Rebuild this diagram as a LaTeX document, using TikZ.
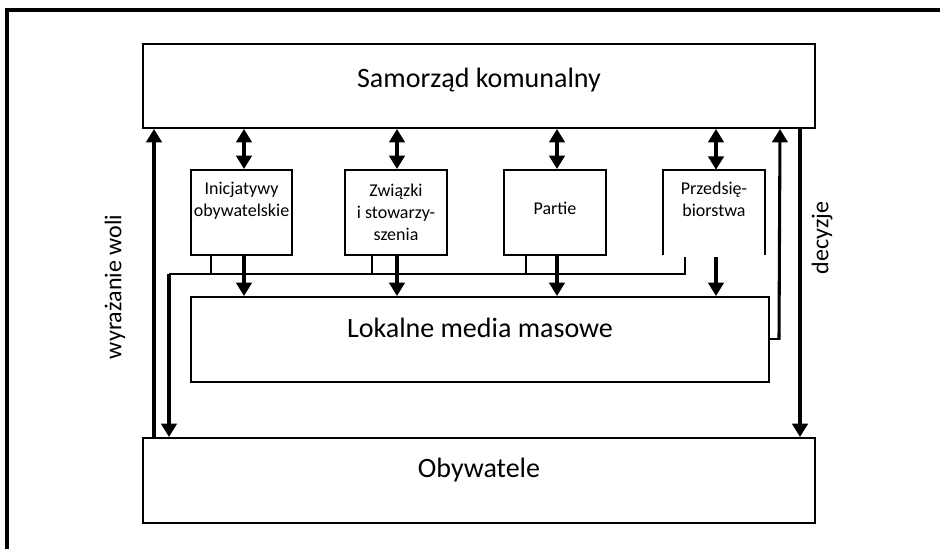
\documentclass[tikz,border=0pt]{standalone}
\usepackage{fontspec}
\setmainfont{Carlito}
\usetikzlibrary{arrows.meta,fit}
\begin{document}
\begin{tikzpicture}[x=0.75pt,y=-0.75pt,
  box/.style={draw, line width=1.5pt, inner sep=0pt},
  tip/.tip={Triangle[width=11.5pt,length=10pt]},
  flow/.style={line width=2.3pt, -tip},
  twoway/.style={line width=2.3pt, tip-tip},
  bus/.style={line width=1.1pt},
  big/.style={font=\fontsize{21}{25}\selectfont},
  small/.style={font=\fontsize{13.5}{16.5}\selectfont, align=center},
  side/.style={font=\fontsize{18}{22}\selectfont, rotate=90}]
\useasboundingbox (0,0) rectangle (940,549);

% outer frame
\draw[line width=2.5pt] (7,549) -- (7,10) -- (940,10);

% main boxes
\node[box, fit={(143,44) (815,128)}] (top) {};
\node[big] (toplbl) at (479,80) {Samorząd komunalny};
\node[box, fit={(191,297) (769,382)}] (media) {};
\node[big] (medialbl) at (480,328) {Lokalne media masowe};
\node[box, fit={(143,438) (815,523)}] (oby) {};
\node[big] (obylbl) at (479,470) {Obywatele};

% intermediate organisations
\node[box, fit={(191,170) (292,255)}] (ini) {};
\node[small] (inilbl) at (241.5,201) {Inicjatywy\\obywatelskie};
\node[box, fit={(345,170) (447,255)}] (zw) {};
\node[small] (zwlbl) at (396,212) {Związki\\i stowarzy-\\szenia};
\node[box, fit={(504,170) (606,255)}] (par) {};
\node[small] (parlbl) at (555,208) {Partie};
\node[inner sep=0pt, fit={(663,170) (765,255)}] (prz) {};
\draw[line width=1.5pt] (prz.south west) -- (prz.north west) -- (prz.north east) -- (prz.south east);
\node[small] (przlbl) at (714,199) {Przedsię-\\biorstwa};

% x positions of the vertical connectors
\coordinate (xi) at (244,0);
\coordinate (xz) at (397,0);
\coordinate (xp) at (557,0);
\coordinate (xe) at (716,0);
\coordinate (xwill) at (154,0);
\coordinate (xbus) at (169,0);
\coordinate (xmedia) at (780,0);
\coordinate (xdec) at (800,0);
\coordinate (ybus) at (0,274);

% two-way links with the council
\draw[twoway] (top.south -| xi) -- (ini.north -| xi);
\draw[twoway] (top.south -| xz) -- (zw.north -| xz);
\draw[twoway] (top.south -| xp) -- (par.north -| xp);
\draw[twoway] (top.south -| xe) -- (prz.north -| xe);

% organisations feed the local media
\draw[flow] (ini.south -| xi) -- (media.north -| xi);
\draw[flow] (zw.south -| xz) -- (media.north -| xz);
\draw[flow] (par.south -| xp) -- (media.north -| xp);
\draw[flow] ([yshift=-1.5pt]prz.south -| xe) -- (media.north -| xe);

% common line from the organisations to the citizens
\coordinate (bi) at (211,0);
\coordinate (bz) at (372,0);
\coordinate (bp) at (526,0);
\coordinate (be) at (685,0);
\draw[bus] (ini.south -| bi) -- (ybus -| bi);
\draw[bus] (zw.south -| bz) -- (ybus -| bz);
\draw[bus] (par.south -| bp) -- (ybus -| bp);
\draw[bus] ([yshift=-1.5pt]prz.south -| be) -- (ybus -| be) -- (ybus -| xbus);
\draw[flow] (ybus -| xbus) -- (oby.north -| xbus);

% will of the citizens and decisions
\draw[flow, line width=2.5pt] (oby.north -| xwill) -- (top.south -| xwill);
\node[side] (willlbl) at (115,287) {wyrażanie woli};
\draw[flow, line width=2.5pt] (top.south -| xdec) -- (oby.north -| xdec);
\node[side] (declbl) at (822,238) {decyzje};

% local media report to the council
\draw[line width=1.5pt] (media.east) -- (media.east -| xmedia);
\draw[flow] ([xshift=-0.75pt]media.east -| xmedia) -- (top.south -| xmedia);
\end{tikzpicture}
\end{document}
